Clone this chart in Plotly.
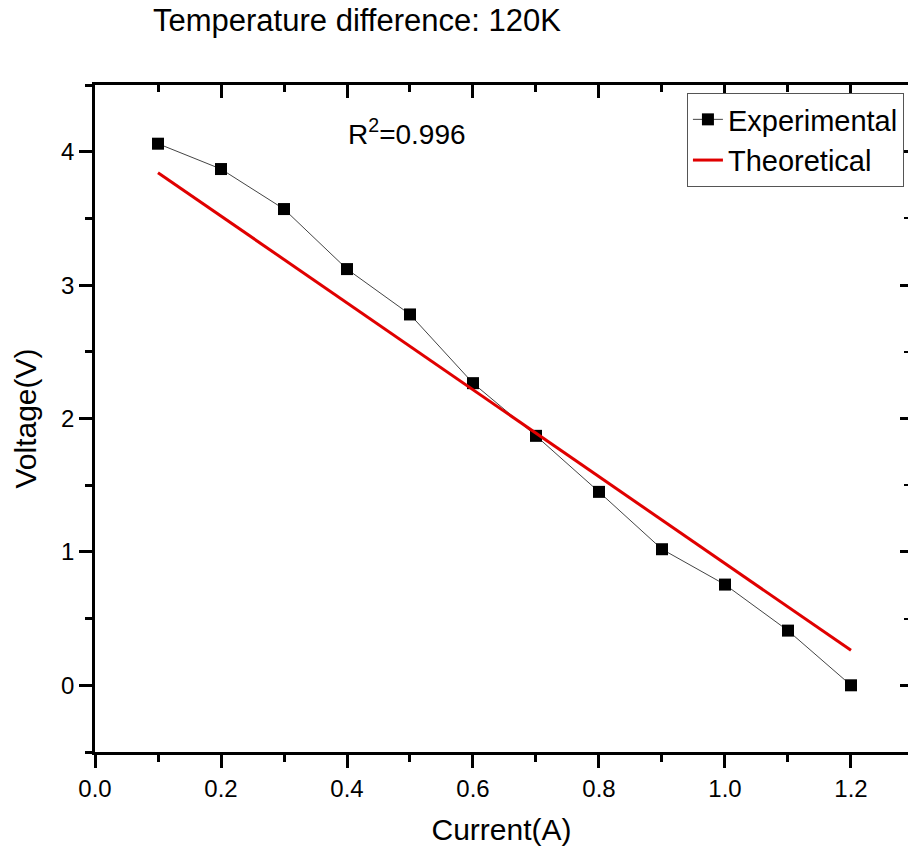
import plotly.graph_objects as go

current_exp = [0.1, 0.2, 0.3, 0.4, 0.5, 0.6, 0.7, 0.8, 0.9, 1.0, 1.1, 1.2]
voltage_exp = [4.06, 3.87, 3.57, 3.12, 2.78, 2.265, 1.87, 1.45, 1.02, 0.755, 0.41, 0.0]
current_theo = [0.1, 1.2]
voltage_theo = [3.843, 0.262]

title_text = "Temperature difference: 120K"
r2_text = "R<sup>2</sup>=0.996"

FONT = "Liberation Sans, Arial, sans-serif"
W, H = 908, 854
ML, MT, MB, MR = 95, 85, 102, 0

fig = go.Figure()
fig.add_trace(go.Scatter(
    x=current_exp, y=voltage_exp, mode="lines+markers", name="Experimental",
    line=dict(color="#444444", width=1),
    marker=dict(symbol="square", size=12, color="black"),
))
fig.add_trace(go.Scatter(
    x=current_theo, y=voltage_theo, mode="lines", name="Theoretical",
    line=dict(color="#e00000", width=3),
))

xr = [0, 1.2905]
yr = [-0.5, 4.5]
tickfont = dict(family=FONT, size=24, color="black")

fig.update_layout(
    width=W, height=H,
    margin=dict(l=ML, r=MR, t=MT, b=MB, pad=0),
    paper_bgcolor="white", plot_bgcolor="white",
    font=dict(family=FONT, color="black"),
    title=dict(text=title_text, xref="container", yref="container",
               x=153 / W, xanchor="left", y=1 - 20 / H, yanchor="middle",
               font=dict(family=FONT, size=31, color="black")),
    xaxis=dict(range=xr, showgrid=False, zeroline=False, showline=True,
               linecolor="black", linewidth=2.5, ticks="outside", ticklen=13,
               tickwidth=2.5, tickcolor="black", dtick=0.2, tick0=0,
               tickformat=".1f", tickfont=tickfont,
               minor=dict(dtick=0.1, ticks="outside", ticklen=7, tickwidth=2.5,
                          tickcolor="black", showgrid=False),
               title=dict(text="Current(A)", font=dict(family=FONT, size=30, color="black"),
                          standoff=19)),
    xaxis2=dict(range=xr, overlaying="x", side="top", anchor="y", showgrid=False,
                zeroline=False, showline=True, linecolor="black", linewidth=2.5,
                ticks="inside", ticklen=13, tickwidth=2.5, tickcolor="black",
                dtick=0.2, tick0=0, showticklabels=False,
                minor=dict(dtick=0.1, ticks="inside", ticklen=7, tickwidth=2.5,
                           tickcolor="black", showgrid=False)),
    yaxis=dict(range=yr, showgrid=False, zeroline=False, showline=True,
               linecolor="black", linewidth=2.5, ticks="outside", ticklen=13,
               tickwidth=2.5, tickcolor="black", dtick=1, tick0=0,
               tickfont=tickfont,
               minor=dict(dtick=0.5, ticks="outside", ticklen=7, tickwidth=2.5,
                          tickcolor="black", showgrid=False),
               title=dict(text="Voltage(V)", font=dict(family=FONT, size=30, color="black"),
                          standoff=16)),
    yaxis2=dict(range=yr, overlaying="y", side="right", anchor="x", showgrid=False,
                zeroline=False, showline=False, ticks="inside", ticklen=8,
                tickwidth=2.5, tickcolor="black", dtick=1, tick0=0,
                showticklabels=False,
                minor=dict(dtick=0.5, ticks="inside", ticklen=4, tickwidth=2,
                           tickcolor="black", showgrid=False)),
    legend=dict(x=0.995, xanchor="right", y=0.988, yanchor="top",
                bgcolor="white", bordercolor="#555555", borderwidth=1,
                font=dict(family=FONT, size=29, color="black"),
                tracegroupgap=0, itemwidth=30),
    showlegend=True,
)
fig.add_trace(go.Scatter(x=[None], y=[None], xaxis="x2", yaxis="y2",
                         showlegend=False, hoverinfo="skip"))

fig.add_annotation(text=r2_text, x=0.495, y=4.15, xref="x", yref="y",
                   xanchor="center", yanchor="middle", showarrow=False,
                   font=dict(family=FONT, size=28, color="black"))

fig.write_html("out.html")
